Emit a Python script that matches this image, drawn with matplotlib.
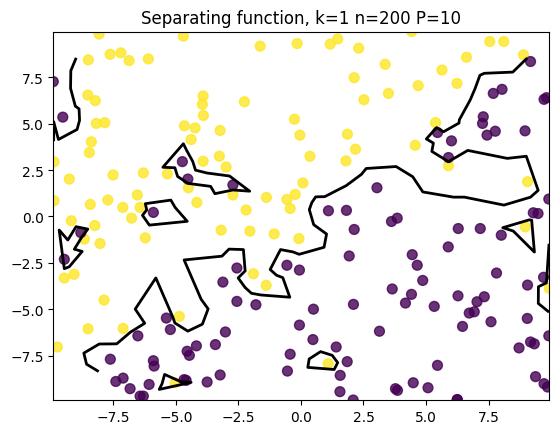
import numpy as np
import matplotlib
matplotlib.use("Agg")
import matplotlib.pyplot as plt

# class 1 (yellow) points
yellow_x = [-8.07, -4.70, -1.63, -0.15, -8.50, -7.63, -7.20, -6.87, -6.10, -8.52,
            -8.22, -8.18, -7.84, -8.38, -8.46, -3.91, -3.94, -3.90, -4.66, -4.23,
            -4.39, -3.23, -2.26, -0.26, -0.04,
            1.17, 1.47, 2.31, 4.43, 7.55, 8.11, 6.62, 8.90, 3.37, 5.64,
            2.13, 6.24, 4.69, 3.50, 2.52, 1.86, 5.38, 4.57, 2.18,
            -9.87, -9.26, -7.51, -6.30, -5.34, -3.91, -3.26, -2.99, -4.50, -2.72,
            -6.54, -7.72, -8.42, -9.87, -7.12, -6.43, -6.77, -9.18, -8.24, -8.66,
            -8.03, -6.22, -4.16, -3.19, -2.04, -1.07, -0.08, -1.38, -2.19, -0.56,
            -0.23, -0.43, -9.07, -9.46, -1.90,
            0.36, 1.80, 0.08, 5.90, 9.06, 8.97,
            -1.39, -7.87, -8.51, -7.11, -9.74, -4.86, -5.03,
            9.93, 1.09]
yellow_y = [9.84, 9.73, 9.19, 9.33, 8.45, 8.75, 8.83, 8.41, 8.50, 6.55,
            6.25, 5.02, 5.06, 4.03, 3.45, 6.50, 6.05, 5.45, 4.89, 4.78,
            4.15, 4.64, 6.19, 5.25, 4.39,
            9.30, 9.58, 9.08, 9.98, 9.44, 9.44, 8.59, 8.72, 8.21, 7.90,
            7.49, 7.18, 7.06, 6.64, 6.30, 4.44, 5.06, 3.84, 3.63,
            2.95, 2.02, 2.24, 2.35, 2.30, 2.98, 3.25, 2.67, 1.55, 1.16,
            1.16, 0.89, 0.65, 0.85, 0.49, 0.49, -0.09, -0.23, -0.49, -1.22,
            -1.46, -1.15, 0.76, -0.74, -0.79, -0.94, -1.19, 1.03, 0.35, 0.92,
            1.19, 0.43, -3.12, -3.32, -3.09,
            3.25, 3.00, 1.81, 2.74, 1.88, -0.56,
            -3.71, -4.51, -6.06, -6.04, -7.04, -5.39, -8.97,
            -3.88, -7.94]

# class 0 (purple) points
purple_x = [-9.90, -9.52,
            9.18, 7.69, 8.04, 9.72, 9.82, 7.29, 7.26, 7.77, 7.44, 8.96, 5.46, 6.02,
            -4.74, -4.52, -2.72, -5.90, -8.80, -9.46, -2.56, -0.56, -0.06,
            5.90, 3.04, 1.10, 1.82, 3.62, 3.85, 2.13, 1.93, 6.29, 7.17,
            8.01, 5.89, 4.45, 4.65, 7.82, 9.29, 9.48, 9.91, 9.70,
            -3.12, -2.56, -1.80, -0.06, -5.38, -5.22, -6.52, -3.02, -4.18, -3.42,
            -4.55, -4.46, -7.62, -5.90, -5.87, -0.43, -0.54, -3.23, -3.75, -4.67,
            -4.59, -7.11, -7.40, -6.83, -6.07, -6.43, -6.30,
            4.87, 9.06, 3.65, 4.42, 4.18, 2.10, 0.50, 5.33, 6.28, 7.04,
            7.33, 6.73, 6.93, 7.60, 6.46, 9.05, 3.14, 0.48, 1.41, 1.85,
            1.57, 1.56, 2.09, 6.25, 5.46, 4.49, 5.08, 3.78, 3.86, 6.25,
            8.72, 9.18, 9.33, 9.91, 9.38, 9.72, 9.86]
purple_y = [7.28, 5.36,
            8.36, 6.64, 6.86, 6.32, 6.41, 5.38, 5.02, 4.60, 4.39, 4.62, 4.53, 4.08,
            2.96, 2.02, 1.70, 0.22, -0.87, -2.31, -2.78, -2.63, -2.89,
            3.18, 1.55, 0.31, 0.33, -0.27, -0.09, -0.70, -2.13, -0.65, -0.65,
            -1.01, -1.64, -2.06, -2.63, -3.05, 0.20, 0.16, 0.94, -3.28,
            -3.54, -4.58, -4.76, -5.86, -5.48, -6.10, -6.44, -6.23, -6.98, -6.91,
            -7.27, -7.49, -7.70, -7.78, -8.07, -7.43, -8.34, -8.55, -8.93, -8.80,
            -8.84, -8.72, -8.90, -9.29, -9.06, -9.69, -9.69,
            -3.45, -3.70, -3.91, -4.20, -4.67, -4.74, -5.00, -4.85, -4.28, -4.60,
            -4.33, -5.21, -5.14, -5.68, -5.93, -5.50, -6.19, -6.64, -7.04, -7.83,
            -8.57, -9.45, -9.90, -9.88, -8.03, -8.97, -9.24, -9.29, -9.38, -9.88,
            -7.09, -6.77, -6.87, -6.44, -8.64, -9.02, -9.20]

k = 1
n = 200
P = 10

x = np.array(yellow_x + purple_x)
y = np.array(yellow_y + purple_y)
labels = np.array([1] * len(yellow_x) + [0] * len(purple_x))

fig = plt.figure(figsize=(5.59, 4.35), dpi=100)
W, H = 559, 435
ax = fig.add_axes([53.3 / W, 34 / H, 496 / W, 368.5 / H])

ax.tricontour(x, y, labels.astype(float), levels=[0.5], colors='k', linewidths=2)
ax.scatter(x, y, c=labels, cmap='viridis', alpha=0.8, s=50)
ax.set_xlim(x.min(), x.max())
ax.set_ylim(y.min(), y.max())
ax.set_title(f"Separating function, k={k} n={n} P={P}")

fig.savefig("out.png", dpi=100)
